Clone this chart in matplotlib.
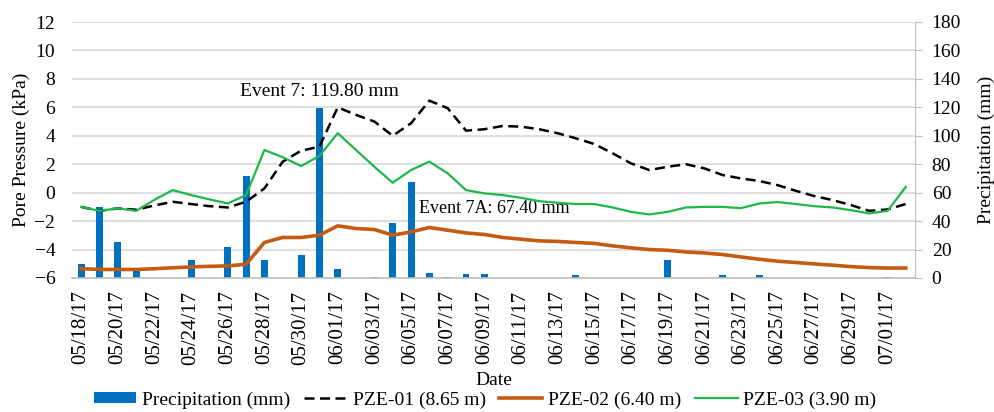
import numpy as np
import pandas as pd
import matplotlib
matplotlib.use("Agg")
import matplotlib.pyplot as plt
from matplotlib.patches import Patch
from matplotlib.lines import Line2D

plt.rcParams["font.family"] = ["Liberation Serif", "DejaVu Serif"]

DATES = pd.date_range("2017-05-18", "2017-07-02", freq="D")
DATE_LABELS = [d.strftime("%m/%d/%y") for d in DATES]

# daily rainfall, mm
PRECIP = [10, 50, 25, 6, 0, 0, 13, 0, 22, 72,
          13, 0, 16, 119.8, 6, 0, 1, 39, 67.4, 3.5,
          1, 2.6, 3, 0, 0, 0, 0, 2, 0, 0,
          0, 0, 12.5, 0, 0, 2, 0, 2, 0, 0,
          0, 0, 0, 0, 1, 0]

# pore pressure, kPa
PZE01 = [-1.0, -1.28, -1.1, -1.2, -0.9, -0.64, -0.8, -0.95, -1.04, -0.64,
         0.3, 2.18, 2.95, 3.23, 6.0, 5.47, 5.0, 4.0, 4.88, 6.47,
         5.94, 4.36, 4.46, 4.69, 4.64, 4.46, 4.18, 3.82, 3.42, 2.77,
         2.06, 1.59, 1.82, 2.0, 1.71, 1.24, 1.0, 0.82, 0.53, 0.13,
         -0.24, -0.52, -0.87, -1.28, -1.18, -0.8]
PZE02 = [-5.34, -5.4, -5.4, -5.4, -5.35, -5.28, -5.22, -5.18, -5.15, -5.03,
         -3.5, -3.15, -3.15, -2.99, -2.33, -2.52, -2.59, -2.99, -2.76, -2.45,
         -2.64, -2.83, -2.94, -3.15, -3.27, -3.39, -3.43, -3.5, -3.57, -3.74,
         -3.88, -4.0, -4.05, -4.17, -4.24, -4.35, -4.52, -4.68, -4.82, -4.91,
         -5.01, -5.1, -5.2, -5.27, -5.3, -5.3]
PZE03 = [-1.0, -1.28, -1.1, -1.28, -0.5, 0.18, -0.17, -0.47, -0.76, -0.17,
         3.0, 2.49, 1.87, 2.58, 4.18, 3.0, 1.82, 0.7, 1.59, 2.18,
         1.36, 0.18, -0.05, -0.17, -0.36, -0.6, -0.71, -0.8, -0.8, -1.04,
         -1.35, -1.53, -1.35, -1.04, -1.0, -1.0, -1.09, -0.76, -0.66, -0.8,
         -0.95, -1.04, -1.23, -1.46, -1.28, 0.41]

BLUE = "#0070C0"
ORANGE = "#C55A11"
GREEN = "#1EB84A"
DASH = (0, (4, 2.2))
FS = 14

fig = plt.figure(figsize=(9.94, 4.12), dpi=100)
ax = fig.add_axes([72 / 994, 1 - 278 / 412, (915 - 72) / 994, (278 - 22) / 412])
axr = ax.twinx()
# lines sit above the rainfall bars
ax.set_zorder(axr.get_zorder() + 1)
ax.patch.set_visible(False)

x = np.arange(len(DATES))
axr.bar(x, PRECIP, width=0.38, color=BLUE, zorder=2)
axr.set_ylim(0, 180)
axr.set_yticks(np.arange(0, 181, 20))
axr.grid(axis="y", color="#D9D9D9", linewidth=1.2, zorder=0)
axr.set_axisbelow(True)
axr.set_ylabel("Precipitation (mm)", fontsize=FS, labelpad=12)

ax.plot(x, PZE01, color="black", linestyle=DASH, linewidth=1.8)
ax.plot(x, PZE02, color=ORANGE, linewidth=2.6)
ax.plot(x, PZE03, color=GREEN, linewidth=1.6)
ax.set_ylim(-6, 12)
ax.set_yticks(np.arange(-6, 13, 2))
ax.set_xlim(-0.5, len(DATES) - 0.5)
ax.set_xticks(x[::2])
ax.set_xticklabels(DATE_LABELS[::2], rotation=90, fontsize=15)
ax.set_ylabel("Pore Pressure (kPa)", fontsize=FS, labelpad=3)
ax.set_xlabel("Date", fontsize=FS, labelpad=5)

for a in (ax, axr):
    for side in ("top", "left", "right", "bottom"):
        a.spines[side].set_visible(False)
axr.spines["right"].set_visible(True)
axr.spines["right"].set_color("#BFBFBF")
axr.spines["bottom"].set_visible(True)
axr.spines["bottom"].set_color("#BFBFBF")
axr.spines["bottom"].set_linewidth(1.2)
ax.tick_params(axis="y", length=0, pad=12, labelsize=FS)
ax.tick_params(axis="x", length=0, pad=9)
axr.tick_params(axis="y", length=5, color="#BFBFBF", pad=7, labelsize=FS)

axr.text(13, 131, "Event 7: 119.80 mm", ha="center", va="center", fontsize=FS)
axr.text(18.45, 48.6, "Event 7A: 67.40 mm", ha="left", va="center", fontsize=13)

handles = [
    Patch(facecolor=BLUE),
    Line2D([], [], color="black", linestyle=DASH, linewidth=1.8),
    Line2D([], [], color=ORANGE, linewidth=2.6),
    Line2D([], [], color=GREEN, linewidth=1.6),
]
labels = ["Precipitation (mm)", "PZE-01 (8.65 m)", "PZE-02 (6.40 m)", "PZE-03 (3.90 m)"]
fig.legend(handles, labels, loc="center", bbox_to_anchor=(0.488, 1 - 400 / 412), ncol=4,
           frameon=False, fontsize=FS, handlelength=2.2, handleheight=0.5,
           handletextpad=0.3, columnspacing=0.7)

fig.savefig("out.png", dpi=100)
